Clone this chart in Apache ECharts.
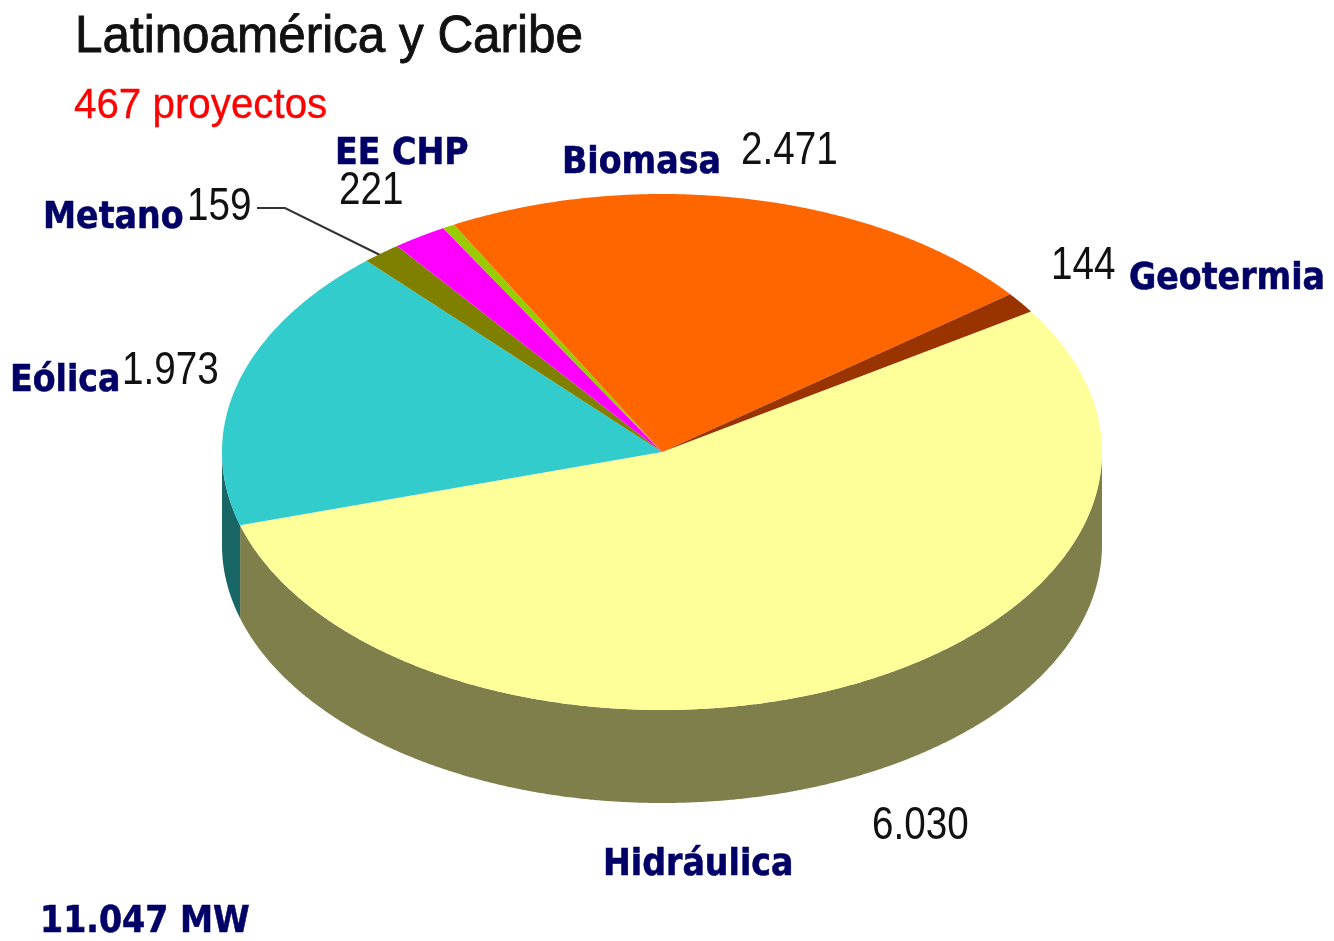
<!DOCTYPE html>
<html>
<head>
<meta charset="utf-8">
<title>Latinoamérica y Caribe</title>
<script src="https://cdn.jsdelivr.net/npm/echarts@6/dist/echarts.min.js"></script>
<style>
  html, body { margin: 0; padding: 0; background: #fff; }
  #main { width: 1334px; height: 941px; }
</style>
</head>
<body>
<div id="main"></div>
<script>
// datos, en el orden de las agujas desde Hidráulica
var categories = ['Hidráulica', 'Eólica', 'Metano', 'EE CHP', 'Otros', 'Biomasa', 'Geotermia'];
var values = [6030, 1973, 159, 221, 49, 2471, 144];
var colors = ['#ffff99', '#33cccc', '#808000', '#ff00ff', '#99cc00', '#ff6600', '#993300'];

var totalLabel = '11.047 MW';
var titleText = 'Latinoamérica y Caribe';
var subtitleText = '467 proyectos';

var total = values.reduce(function (a, b) { return a + b; }, 0);

// geometria de la elipse
var cx = 662, cy = 452, rx = 440, ry = 258, depth = 93;
var startAngle = 33;

function sliceAngles(index) {
  var before = 0;
  for (var i = 0; i < index; i++) before += values[i];
  var a0 = startAngle - before / total * 360;
  var a1 = a0 - values[index] / total * 360;
  return [a0, a1];
}

function rim(deg, dy) {
  var r = deg * Math.PI / 180;
  return [cx + rx * Math.cos(r), cy - ry * Math.sin(r) + (dy || 0)];
}

function darken(hex) {
  var n = parseInt(hex.slice(1), 16);
  var r = (n >> 16) >> 1, g = ((n >> 8) & 255) >> 1, b = (n & 255) >> 1;
  return 'rgb(' + r + ',' + g + ',' + b + ')';
}

// cara superior de cada porcion
function renderTop(params, api) {
  var ang = sliceAngles(api.value(0));
  var pts = [[cx, cy]];
  for (var a = ang[0]; a > ang[1]; a -= 0.25) pts.push(rim(a));
  pts.push(rim(ang[1]));
  return { type: 'polygon', shape: { points: pts }, style: { fill: colors[api.value(0)] } };
}

// pared lateral, solo la parte delantera (de 0 a -180 grados)
function renderWall(params, api) {
  var ang = sliceAngles(api.value(0));
  var a0 = Math.min(ang[0], 0), a1 = Math.max(ang[1], -180);
  if (a0 <= a1) return null;
  var top = [], bottom = [];
  for (var a = a0; a > a1; a -= 0.25) {
    top.push(rim(a));
    bottom.unshift(rim(a, depth));
  }
  top.push(rim(a1));
  bottom.unshift(rim(a1, depth));
  return { type: 'polygon', shape: { points: top.concat(bottom) }, style: { fill: darken(colors[api.value(0)]) } };
}

function txt(text, x, y, size, fill, weight, family, scaleX, stroke) {
  return {
    type: 'text', x: x, y: y, scaleX: scaleX, silent: true,
    style: {
      text: text, x: 0, y: 0, fill: fill,
      stroke: stroke ? fill : null, lineWidth: stroke || 0,
      font: weight + ' ' + size + 'px ' + family,
      align: 'left', verticalAlign: 'middle'
    }
  };
}

var plain = '"Liberation Sans"';
var bold = '"DejaVu Sans"';
var navy = '#000066';
var black = '#111111';

function nameLabel(text, x, y) { return txt(text, x, y, 38, navy, 'bold', bold, 0.875, 0.6); }
function numLabel(text, x, y) { return txt(text, x, y, 46, black, 'normal', plain, 0.84, 0); }

var sliceIndex = categories.map(function (c, i) { return [i]; });

var myChart = echarts.init(document.getElementById('main'));

myChart.setOption({
  backgroundColor: '#ffffff',
  animation: false,
  series: [
    { type: 'custom', coordinateSystem: 'none', silent: true, renderItem: renderWall, data: sliceIndex },
    { type: 'custom', coordinateSystem: 'none', silent: true, renderItem: renderTop, data: sliceIndex }
  ],
  graphic: [
    txt(titleText, 75, 38, 52, '#111111', 'normal', plain, 0.95, 0.9),
    txt(subtitleText, 74, 106, 42, '#ff0000', 'normal', plain, 0.96, 0.3),
    nameLabel('EE CHP', 335, 154),
    numLabel('221', 339, 191),
    nameLabel('Biomasa', 562, 163),
    numLabel('2.471', 741, 151),
    nameLabel('Metano', 43, 218),
    numLabel('159', 187, 207),
    numLabel('144', 1051, 266),
    nameLabel('Geotermia', 1129, 279),
    nameLabel('Eólica', 10, 381),
    numLabel('1.973', 122, 371),
    numLabel('6.030', 872, 826),
    nameLabel('Hidráulica', 603, 865),
    nameLabel(totalLabel, 40, 922),
    {
      type: 'polyline', silent: true,
      shape: { points: [[257, 208], [285, 208], [380, 255]] },
      style: { stroke: '#333333', lineWidth: 2, fill: null }
    }
  ]
});
</script>
</body>
</html>
